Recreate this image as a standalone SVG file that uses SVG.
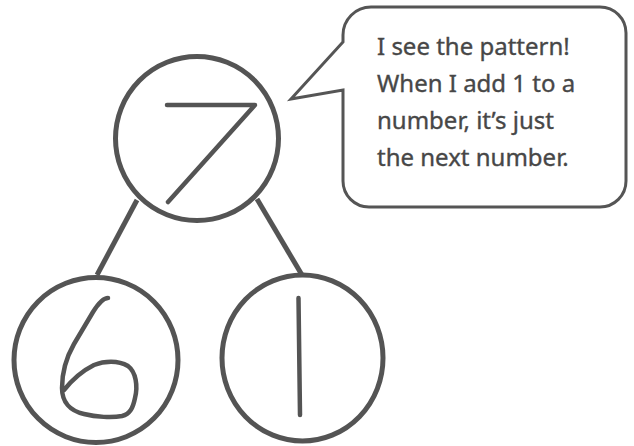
<svg xmlns="http://www.w3.org/2000/svg" width="634" height="446" viewBox="0 0 634 446">
  <style>
    .ring { fill: none; stroke: #545454; stroke-width: 5; }
    .digit { fill: none; stroke: #545454; stroke-width: 4.5; stroke-linecap: round; stroke-linejoin: round; }
    .edge { stroke: #545454; stroke-width: 5; stroke-linecap: butt; }
    .bubble { fill: #fff; stroke: #555; stroke-width: 3; stroke-linejoin: miter; }
    .say { font-family: "Noto Sans", "Open Sans", sans-serif; font-size: 24px; fill: #474747; stroke: #474747; stroke-width: 0.35; }
  </style>
  <rect width="634" height="446" fill="#fff"/>
  <g id="connectors">
    <line class="edge" x1="137" y1="200" x2="97" y2="275"/>
    <line class="edge" x1="257" y1="199" x2="302" y2="275"/>
  </g>
  <g id="node-7">
    <ellipse class="ring" cx="197" cy="138.5" rx="81.5" ry="82"/>
    <path class="digit" d="M167,105 L255,105 L168,202"/>
  </g>
  <g id="node-6">
    <ellipse class="ring" cx="96" cy="360" rx="82" ry="82.5"/>
    <path class="digit" d="M108,298 C103,298 98,304 93,312 L74,344 C66,358 62,372 62,388 C62,402 70,411 84,414 C96,417 112,418 122,416 C130,414 133,408 135,398 C138,386 136,372 128,366 C118,360 104,361 94,365 C82,371 72,380 64,390"/>
  </g>
  <g id="node-1">
    <ellipse class="ring" cx="302.5" cy="358" rx="80.5" ry="83"/>
    <line class="digit" x1="298.5" y1="298" x2="300" y2="415"/>
  </g>
  <g id="bubble">
    <path class="bubble" d="M371,7 L600,7 A26,26 0 0 1 626,33 L626,181 A26,26 0 0 1 600,207 L369,207 A26,26 0 0 1 343,181 L343,90 L291,99 L343,42 L343,35 A28,28 0 0 1 371,7 Z"/>
    <text class="say" x="377" y="55">I see the pattern!</text>
    <text class="say" x="377" y="92">When I add 1 to a</text>
    <text class="say" x="377" y="129">number, it’s just</text>
    <text class="say" x="377" y="166">the next number.</text>
  </g>
</svg>
